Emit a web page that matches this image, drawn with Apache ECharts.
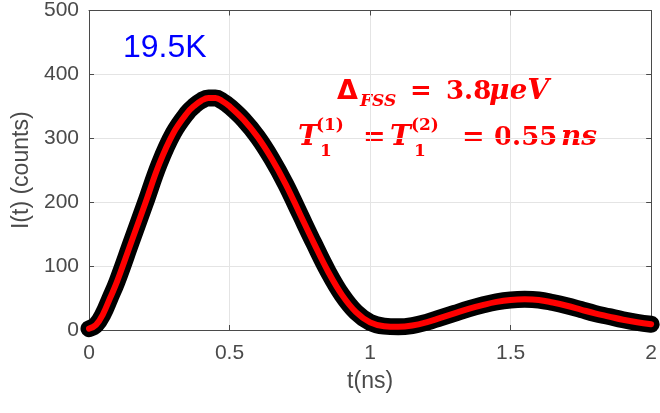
<!DOCTYPE html>
<html>
<head>
<meta charset="utf-8">
<script src="https://cdn.jsdelivr.net/npm/echarts@6/dist/echarts.min.js"></script>
</head>
<body style="margin:0;background:#fff">
<div id="main" style="width:660px;height:413px"></div>
<script>
// time axis (ns) and counts
var times = [0, 0.025, 0.05, 0.075, 0.1, 0.15, 0.2, 0.25, 0.3, 0.35, 0.375, 0.4, 0.425, 0.45, 0.475, 0.5, 0.55, 0.6, 0.65, 0.7, 0.75, 0.8, 0.85, 0.9, 0.95, 1.0, 1.05, 1.1, 1.15, 1.2, 1.25, 1.3, 1.35, 1.4, 1.45, 1.5, 1.55, 1.6, 1.65, 1.7, 1.75, 1.8, 1.85, 1.9, 1.95, 2.0]
var measured = [2, 8, 25, 50, 76, 137, 198, 260, 308, 340, 351, 359, 363, 363, 358, 350, 329, 302, 268, 228, 182, 136, 92, 55, 28, 12, 6, 5, 7, 12, 19, 26, 33, 39, 44, 47, 48, 47, 43, 38, 32, 26, 21, 16, 12, 9]
var fitted = [2, 8, 25, 50, 76, 137, 198, 260, 308, 340, 351, 359, 363, 363, 358, 350, 329, 302, 268, 228, 182, 136, 92, 55, 28, 12, 6, 5, 7, 12, 19, 26, 33, 39, 44, 47, 48, 47, 43, 38, 32, 26, 21, 16, 12, 9]
var xTicks = [0, 0.5, 1, 1.5, 2]
var yTicks = [0, 100, 200, 300, 400, 500]

var chart = echarts.init(document.getElementById('main'))

var axisColor = '#4a4a4a'
var labelFont = 'Liberation Sans'

function pairs(xs, ys) {
    var out = []
    for (var i = 0; i < xs.length; i++) out.push([xs[i], ys[i]])
    return out
}

var red = '#ff0000'
var serif = 'DejaVu Serif'

var option = {
    animation: false,
    backgroundColor: '#fff',
    grid: { left: 89, right: 4, top: 8, bottom: 83 },
    xAxis: [{
        type: 'value',
        min: xTicks[0],
        max: xTicks[xTicks.length - 1],
        interval: 0.5,
        name: 't(ns)',
        nameLocation: 'middle',
        nameGap: 40,
        nameTextStyle: { color: axisColor, fontSize: 23, fontFamily: labelFont },
        axisLine: { lineStyle: { color: axisColor, width: 1 } },
        axisTick: { inside: true, length: 5, lineStyle: { color: axisColor } },
        axisLabel: { color: axisColor, fontSize: 21, fontFamily: labelFont, margin: 13 },
        splitLine: { show: true, lineStyle: { color: '#e4e4e4', width: 1 } }
    }, {
        type: 'value',
        position: 'top',
        min: xTicks[0],
        max: xTicks[xTicks.length - 1],
        interval: 0.5,
        axisLine: { show: true, onZero: false, lineStyle: { color: axisColor, width: 1 } },
        axisTick: { inside: true, length: 5, lineStyle: { color: axisColor } },
        axisLabel: { show: false },
        splitLine: { show: false }
    }],
    yAxis: [{
        type: 'value',
        min: yTicks[0],
        max: yTicks[yTicks.length - 1],
        interval: 100,
        name: 'I(t) (counts)',
        nameLocation: 'middle',
        nameGap: 52,
        nameTextStyle: { color: axisColor, fontSize: 23, fontFamily: labelFont },
        axisLine: { show: true, lineStyle: { color: axisColor, width: 1 } },
        axisTick: { show: true, inside: true, length: 5, lineStyle: { color: axisColor } },
        axisLabel: { color: axisColor, fontSize: 21, fontFamily: labelFont, margin: 10 },
        splitLine: { show: true, lineStyle: { color: '#e4e4e4', width: 1 } }
    }, {
        type: 'value',
        position: 'right',
        min: yTicks[0],
        max: yTicks[yTicks.length - 1],
        interval: 100,
        axisLine: { show: true, onZero: false, lineStyle: { color: axisColor, width: 1 } },
        axisTick: { show: true, inside: true, length: 5, lineStyle: { color: axisColor } },
        axisLabel: { show: false },
        splitLine: { show: false }
    }],
    series: [{
        name: 'data',
        type: 'line',
        smooth: 0.4,
        symbol: 'none',
        lineStyle: { color: '#000', width: 17, cap: 'round', join: 'round' },
        data: pairs(times, measured),
        z: 2
    }, {
        name: 'fit',
        type: 'line',
        smooth: 0.4,
        symbol: 'none',
        lineStyle: { color: red, width: 6, cap: 'round', join: 'round' },
        data: pairs(times, fitted),
        z: 3
    }],
    graphic: [
        { type: 'text', x: 123, y: 48, style: { text: '19.5K', fill: '#0000ff', font: '32px Liberation Sans', verticalAlign: 'middle' } },
        // Δ_FSS = 3.8μeV
        { type: 'text', x: 337, y: 92, style: { text: 'Δ', fill: red, font: 'bold 27px DejaVu Sans', verticalAlign: 'middle' } },
        { type: 'text', x: 360, y: 102, style: { text: 'FSS', fill: red, font: 'italic bold 17px ' + serif, verticalAlign: 'middle' } },
        { type: 'text', x: 410, y: 92, style: { text: '=', fill: red, font: 'bold 26px ' + serif, verticalAlign: 'middle' } },
        { type: 'text', x: 446, y: 92, style: { text: '3.8', fill: red, font: 'bold 26px ' + serif, verticalAlign: 'middle' } },
        { type: 'text', x: 489, y: 92, style: { text: 'μeV', fill: red, font: 'italic bold 28px ' + serif, verticalAlign: 'middle' } },
        // T1(1) = T1(2) = 0.55ns
        { type: 'text', x: 298, y: 138, style: { text: 'T', fill: red, font: 'italic bold 28px ' + serif, verticalAlign: 'middle' } },
        { type: 'text', x: 316, y: 126, style: { text: '(1)', fill: red, font: 'bold 17px ' + serif, verticalAlign: 'middle' } },
        { type: 'text', x: 320, y: 152, style: { text: '1', fill: red, font: 'bold 17px ' + serif, verticalAlign: 'middle' } },
        { type: 'text', x: 363, y: 138, style: { text: '=', fill: red, font: 'bold 27px ' + serif, verticalAlign: 'middle' } },
        { type: 'text', x: 390, y: 138, style: { text: 'T', fill: red, font: 'italic bold 28px ' + serif, verticalAlign: 'middle' } },
        { type: 'text', x: 411, y: 126, style: { text: '(2)', fill: red, font: 'bold 17px ' + serif, verticalAlign: 'middle' } },
        { type: 'text', x: 414, y: 152, style: { text: '1', fill: red, font: 'bold 17px ' + serif, verticalAlign: 'middle' } },
        { type: 'text', x: 462, y: 138, style: { text: '=', fill: red, font: 'bold 27px ' + serif, verticalAlign: 'middle' } },
        { type: 'text', x: 494, y: 138, style: { text: '0.55', fill: red, font: 'bold 26px ' + serif, verticalAlign: 'middle' } },
        { type: 'text', x: 561, y: 138, style: { text: 'ns', fill: red, font: 'italic bold 28px ' + serif, verticalAlign: 'middle' } }
    ]
}
chart.setOption(option)
</script>
</body>
</html>
